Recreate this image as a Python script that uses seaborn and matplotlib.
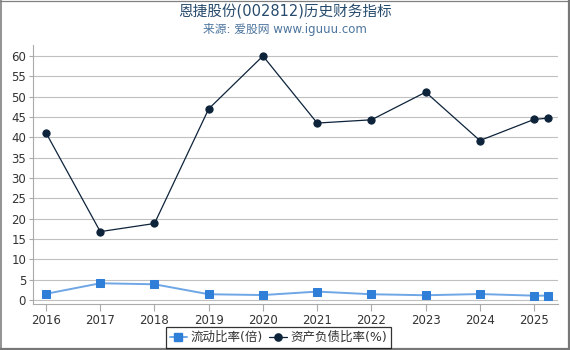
import matplotlib
matplotlib.use("Agg")
import matplotlib.pyplot as plt
import seaborn as sns
import pandas as pd
from matplotlib.lines import Line2D

periods = [2016, 2017, 2018, 2019, 2020, 2021, 2022, 2023, 2024, 2025, 2025.25]
current_ratio = [1.5, 4.1, 3.85, 1.4, 1.2, 2.05, 1.4, 1.15, 1.45, 1.05, 1.05]
debt_ratio = [41.1, 16.8, 18.8, 47.0, 60.0, 43.5, 44.3, 51.1, 39.2, 44.4, 44.7]
year_ticks = [2016, 2017, 2018, 2019, 2020, 2021, 2022, 2023, 2024, 2025]
y_ticks = list(range(0, 61, 5))

title = "恩捷股份(002812)历史财务指标"
subtitle = "来源: 爱股网 www.iguuu.com"
name_cr = "流动比率(倍)"
name_dr = "资产负债比率(%)"

sns.set_theme(style="white")
plt.rcParams['font.family'] = ['DejaVu Sans', 'Noto Sans CJK SC']

df = pd.DataFrame({"period": periods, "cr": current_ratio, "dr": debt_ratio})

W, H = 570, 350
fig = plt.figure(figsize=(W / 100, H / 100), dpi=100)
l, r, t, b = 33, 558, 45, 304
ax = fig.add_axes([l / W, 1 - b / H, (r - l) / W, (b - t) / H])

blue = "#2f7ed8"
navy = "#0d233a"

sns.lineplot(data=df, x="period", y="cr", ax=ax, color="#6fa6e6", linewidth=1.4,
             marker="s", markersize=5.2, markerfacecolor=blue, markeredgecolor=blue,
             zorder=3)
sns.lineplot(data=df, x="period", y="dr", ax=ax, color=navy, linewidth=0.9,
             marker="o", markersize=5.2, markerfacecolor=navy, markeredgecolor=navy,
             zorder=4)

ax.set_xlim(2015.76, 2025.44)
ax.set_ylim(-1, 62.7)
ax.set_xticks(year_ticks)
ax.set_xticklabels([str(y) for y in year_ticks])
ax.set_yticks(y_ticks)
ax.set_xlabel("")
ax.set_ylabel("")
ax.grid(axis="y", color="#c0c0c0", linewidth=0.8)
ax.grid(axis="x", visible=False)
for s in ["top", "right"]:
    ax.spines[s].set_visible(False)
for s in ["left", "bottom"]:
    ax.spines[s].set_visible(True)
    ax.spines[s].set_color("#aaaaaa")
    ax.spines[s].set_linewidth(0.8)
ax.tick_params(axis="x", length=5, width=0.8, color="#aaaaaa", labelsize=8.5,
               labelcolor="#333333", pad=2, direction="out", bottom=True)
ax.tick_params(axis="y", length=3, width=0.8, color="#aaaaaa", labelsize=8.5,
               labelcolor="#333333", pad=2, direction="out", left=True)

fig.text(0.5, 1 - 12 / H, title, ha="center", va="center", fontsize=10.5, color="#274b6d")
fig.text(0.5, 1 - 29 / H, subtitle, ha="center", va="center", fontsize=8.5, color="#4d759e")

handles = [
    Line2D([], [], color="#6fa6e6", linewidth=1.4, marker="s", markersize=5.2,
           markerfacecolor=blue, markeredgecolor=blue),
    Line2D([], [], color=navy, linewidth=0.9, marker="o", markersize=5.2,
           markerfacecolor=navy, markeredgecolor=navy),
]
leg = fig.legend(handles, [name_cr, name_dr], loc="center", bbox_to_anchor=(278.5 / W, 1 - 337.5 / H),
                 ncol=2, frameon=True, fontsize=9, handlelength=1.4, handletextpad=0.3,
                 columnspacing=0.5, borderpad=0.3, fancybox=False, borderaxespad=0)
leg.get_frame().set_edgecolor("#000000")
leg.get_frame().set_linewidth(0.9)
for txt in leg.get_texts():
    txt.set_color("#333333")

# outer frame
frame_col = "#808080"
tf = fig.transFigure
fig.add_artist(Line2D([0.5 / W, 0.5 / W], [0, 1], color=frame_col, linewidth=1.2, transform=tf))
fig.add_artist(Line2D([0, 1], [1 - 0.5 / H, 1 - 0.5 / H], color=frame_col, linewidth=0.9, transform=tf))
fig.add_artist(Line2D([569 / W, 569 / W], [0, 1], color="#777777", linewidth=1.6, transform=tf))
fig.add_artist(Line2D([0, 1], [1 - 349 / H, 1 - 349 / H], color="#777777", linewidth=1.6, transform=tf))

fig.savefig("out.png", dpi=100)
